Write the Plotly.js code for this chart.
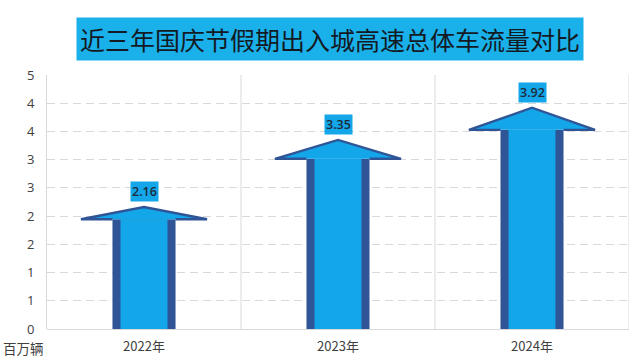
<!DOCTYPE html>
<html>
<head>
<meta charset="utf-8">
<script src="https://cdn.plot.ly/plotly-3.0.1.min.js"></script>
<style>html,body{margin:0;padding:0;background:#fff;}#chart{width:640px;height:363px;}</style>
</head>
<body>
<div id="chart"></div>
<script>
// ---- data ----
const years = ['2022年', '2023年', '2024年'];
const values = [2.16, 3.35, 3.92];
const valueLabels = ['2.16', '3.35', '3.92'];
const yTickValues = [0, 0.5, 1, 1.5, 2, 2.5, 3, 3.5, 4, 4.5];
const yTickLabels = ['0', '1', '1', '2', '2', '3', '3', '4', '4', '5'];
const titleText = '近三年国庆节假期出入城高速总体车流量对比';
const unitText = '百万辆';

// ---- style ----
const LIGHT = '#13a7ea';
const DARK = '#2f5597';
const GRID = '#d9d9d9';
const SHAFT_OUTER = 0.325;
const SHAFT_INNER = 0.242;
const HEAD_HALF = 0.325;
const HEAD_RATIO = 0.9;

const xs = years.map((_, i) => i);
const shaftTop = values.map(v => v * HEAD_RATIO);

// head polygons
const hx = [], hy = [], ox = [], oy = [];
values.forEach((v, i) => {
  const b = v * HEAD_RATIO;
  hx.push(i - HEAD_HALF, i, i + HEAD_HALF, i - HEAD_HALF, null);
  hy.push(b, v, b, b, null);
  ox.push(i - SHAFT_OUTER / 2, i - HEAD_HALF, i, i + HEAD_HALF, i + SHAFT_OUTER / 2, null);
  oy.push(b, b, v, b, b, null);
});

const traces = [
  { type: 'bar', x: xs, y: shaftTop, width: SHAFT_OUTER, marker: { color: DARK, line: { width: 0 } }, hoverinfo: 'skip', showlegend: false },
  { type: 'bar', x: xs, y: shaftTop, width: SHAFT_INNER, marker: { color: LIGHT, line: { width: 0 } }, hoverinfo: 'skip', showlegend: false },
  { type: 'scatter', mode: 'lines', x: hx, y: hy, fill: 'toself', fillcolor: LIGHT, line: { width: 0, color: LIGHT }, hoverinfo: 'skip', showlegend: false },
  { type: 'scatter', mode: 'lines', x: ox, y: oy, line: { width: 2.4, color: DARK }, hoverinfo: 'skip', showlegend: false }
];

const annotations = [
  { xref: 'paper', yref: 'paper', x: 0.486, y: 1.142, xanchor: 'center', yanchor: 'middle',
    text: titleText, showarrow: false, bgcolor: '#1ab0ea', borderpad: 3,
    font: { family: 'Noto Sans CJK SC', size: 25, color: '#141a24' } },
  { xref: 'paper', yref: 'paper', x: 0, y: 0, xanchor: 'right', yanchor: 'top', xshift: -1, yshift: -7,
    text: unitText, showarrow: false, font: { family: 'Noto Sans CJK SC', size: 13.5, color: '#404040' } }
];
values.forEach((v, i) => {
  annotations.push({ x: i, y: v, xanchor: 'center', yanchor: 'bottom', yshift: 5, text: valueLabels[i],
    showarrow: false, bgcolor: LIGHT, borderpad: 1,
    font: { family: 'Open Sans', size: 12.5, color: '#1c2a3a', weight: 600 } });
});

const shapes = [0.5, 1.5, 2.5].map(x => ({ type: 'line', xref: 'x', yref: 'paper', x0: x, x1: x, y0: 0, y1: 1,
  line: { color: GRID, width: 1 }, layer: 'below' }));

const layout = {
  width: 640, height: 363,
  margin: { l: 47, r: 11, t: 75, b: 34 },
  paper_bgcolor: '#fff', plot_bgcolor: '#fff',
  barmode: 'overlay',
  showlegend: false,
  xaxis: { range: [-0.5, 2.5], tickvals: xs, ticktext: years, showgrid: false, zeroline: false,
    showline: false, ticks: '', ticklabelstandoff: 8,
    tickfont: { family: 'Noto Sans CJK SC', size: 13, color: '#404040' }, fixedrange: true },
  yaxis: { range: [0, 4.5], tickvals: yTickValues, ticktext: yTickLabels, showgrid: true,
    gridcolor: GRID, griddash: '8px,5px', gridwidth: 1, zeroline: true, zerolinecolor: GRID, zerolinewidth: 1,
    showline: true, linecolor: GRID, linewidth: 1, ticks: '', ticklabelstandoff: 9,
    tickfont: { family: 'Open Sans', size: 13, color: '#404040' }, fixedrange: true },
  shapes: shapes,
  annotations: annotations
};

Plotly.newPlot('chart', traces, layout, { displayModeBar: false, staticPlot: true });
</script>
</body>
</html>
